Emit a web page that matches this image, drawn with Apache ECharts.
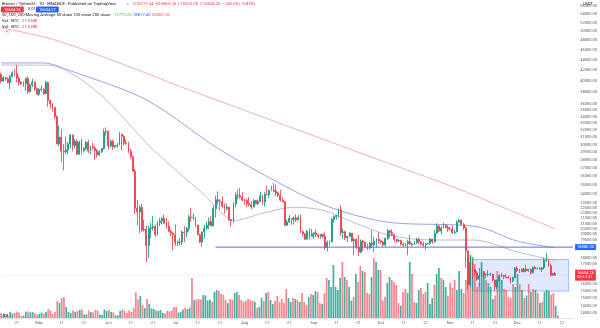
<!DOCTYPE html>
<html>
<head>
<meta charset="utf-8">
<script src="https://cdn.jsdelivr.net/npm/echarts@6/dist/echarts.min.js"></script>
<style>
  html, body { margin: 0; padding: 0; background: #ffffff; }
  #chart { width: 600px; height: 328px; }
</style>
</head>
<body>
<div id="chart"></div>
<script>
// BTC/USDT daily candles, 14 Apr 2022 – 18 Dec 2022 (Binance)
const firstDay = [2022, 3, 14];      // year, month (0-based), day
const dayCount = 257;                // candles plus empty right margin

const opens = [
  41147, 39942, 40552, 40378, 39678, 40801, 41493, 41358, 40480, 39709, 39441, 39450, 40426, 38112, 39235, 39742, 38596,
  37630, 38468, 38525, 37728, 39690, 36552, 36013, 35472, 34039, 30076, 31017, 29103, 29030, 29287, 30086, 31328, 29874, 30444, 28715, 30319, 29201, 29445, 30293, 29110, 29655, 29543, 29202, 28627, 29027, 29469, 31734,
  31801, 29805, 30452, 29700, 29865, 29920, 31374, 31125, 30205, 30110, 29092, 28425, 26575, 22488, 22136, 22584, 20401, 20469, 19018, 20553, 20600, 20711, 19988, 21110, 21237, 21492, 21038, 20742, 20281, 20124,
  19943, 19252, 19315, 19332, 20212, 20175, 20565, 21640, 21592, 21592, 20861, 19970, 19323, 20213, 20569, 20836, 21191, 20779, 22485, 23389, 23231, 23164, 22714, 22465, 22610, 21361, 21239, 22930, 23843, 23804, 23656,
  23336, 23314, 22978, 22846, 22630, 23289, 22961, 23175, 23810, 23149, 23954, 23934, 24403, 24441, 24305, 24094, 23854, 23342, 23191, 20834, 21140, 21516, 21400, 21529, 21368, 21560, 20241, 20037, 19555, 20285, 19811,
  20050, 20131, 19951, 19832, 19986, 19812, 18837, 19290, 19329, 21381, 21680, 21769, 22371, 20173, 20226, 19701, 19803, 20113, 19417, 19538, 18876, 18461, 19401, 19289, 18920, 18807, 19227, 19079, 19412, 19591,
  19423, 19310, 19056, 19629, 20337, 20158, 19955, 19531, 19417, 19439, 19131, 19060, 19155, 19375, 19176, 19068, 19268, 19550, 19334, 19139, 19053, 19172, 19208, 19567, 19345, 20095, 20771, 20295, 20591, 20809, 20627,
  20490, 20483, 20151, 20207, 21148, 21300, 20905, 20591, 18547, 15922, 17601, 17070, 16812, 16330, 16619, 16900, 16662, 16692, 16700, 16700, 16280, 15781, 16227, 16603, 16599, 16522, 16459, 16428, 16213, 16442,
  17163, 16978, 17092, 16885, 17105, 16967, 17088, 16837, 17224, 17128, 17128, 17085, 17209, 17775, 17804, 17356, 16632, 16777
];
const highs = [
  41500, 40870, 40709, 40595, 41116, 41760, 42199, 42976, 40795, 39980, 39940, 40616, 40797, 39474, 40372, 39925, 38795,
  38675, 39167, 38651, 40023, 39845, 36675, 36146, 35514, 34243, 32659, 32162, 30033, 31083, 30343, 31460, 31328, 30788, 30709, 30545, 30777, 29656, 30487, 30670, 29850, 30223, 29880, 29396, 29250, 29550, 32222, 32399,
  31982, 30689, 30675, 29955, 30189, 31765, 31555, 31330, 30700, 30385, 29440, 28544, 26895, 23362, 22800, 22978, 21365, 20792, 20815, 21078, 21723, 20900, 21233, 21558, 21614, 21868, 21540, 21200, 20432, 20179,
  20918, 19438, 19667, 20354, 20750, 20675, 21838, 22527, 21954, 21600, 20868, 20050, 20244, 20888, 21200, 21589, 21689, 22777, 23800, 24276, 23444, 23757, 22998, 23014, 22666, 21361, 23113, 24200, 24443, 24668, 24194,
  23509, 23466, 23647, 23230, 23464, 23354, 23400, 24245, 23932, 24226, 24918, 24458, 24888, 25211, 25047, 24247, 24446, 23600, 23208, 21382, 21800, 21548, 21684, 21900, 21819, 21867, 20364, 20143, 20400, 20575, 20490,
  20208, 20440, 20054, 20000, 20058, 20180, 19464, 19450, 21550, 21790, 21860, 22488, 22799, 20543, 20330, 19890, 20189, 20117, 19686, 19634, 19956, 19550, 19500, 19316, 19180, 19318, 20385, 19790, 19645, 20185,
  19486, 19395, 19719, 20475, 20365, 20456, 20055, 19627, 19558, 19525, 19268, 19238, 19513, 19951, 19227, 19425, 19676, 19706, 19360, 19346, 19250, 19248, 19700, 19601, 20415, 21020, 20877, 20750, 21085, 20931, 20845,
  20700, 20800, 20393, 21302, 21480, 21365, 21069, 20700, 18587, 18199, 17655, 17099, 16955, 17190, 17134, 16960, 16751, 17011, 16820, 16753, 16302, 16290, 16705, 16812, 16666, 16701, 16600, 16487, 16525, 17249,
  17320, 17105, 17159, 17202, 17425, 17107, 17142, 17299, 17360, 17227, 17270, 17241, 18000, 18387, 17854, 17531, 16796, 16863
];
const lows = [
  39551, 39767, 39991, 39546, 38536, 40571, 40820, 39751, 39177, 39285, 38929, 38200, 37702, 37881, 38881, 38175, 37578,
  37386, 38052, 37517, 37670, 35571, 35258, 34785, 33714, 30033, 29730, 27785, 26700, 28751, 28630, 29480, 29087, 29450, 28654, 28691, 28730, 28947, 29255, 28866, 28701, 29294, 28019, 28282, 28451, 28839, 29299, 31200,
  29301, 29594, 29282, 29485, 29531, 29890, 29219, 29843, 29944, 28850, 28100, 26560, 21925, 20846, 20111, 20232, 20246, 17622, 17960, 19637, 20348, 19770, 19890, 20740, 20907, 20964, 20510, 20188, 19848, 18626,
  18975, 18952, 19055, 19055, 19304, 19760, 20254, 21189, 21320, 20646, 19901, 19240, 18910, 19616, 20385, 20469, 20760, 20755, 21582, 22907, 22341, 22500, 21950, 22257, 21250, 20706, 21042, 22583, 23418, 23505, 23228,
  22850, 22665, 22681, 22400, 22588, 22910, 22841, 23151, 22865, 22665, 23853, 23580, 24300, 24178, 23773, 23671, 23180, 23080, 20783, 20761, 21067, 20890, 20890, 21150, 21310, 20107, 19800, 19521, 19550, 19540, 19797,
  19565, 19755, 19656, 19600, 19636, 18650, 18510, 19000, 19291, 21100, 21356, 21538, 19860, 19617, 19497, 19320, 19748, 19335, 18232, 18711, 18125, 18357, 18531, 18805, 18629, 18680, 18816, 18471, 18843, 19155,
  19160, 18920, 18959, 19492, 19730, 19853, 19320, 19255, 19316, 19020, 18860, 18965, 18190, 19070, 18975, 19063, 19160, 19101, 19000, 18900, 18650, 19132, 19070, 19157, 19242, 20050, 20200, 20000, 20552, 20555, 20237,
  20330, 20048, 20031, 20180, 21080, 20880, 20384, 17166, 15588, 15754, 16361, 16631, 16229, 15815, 16527, 16361, 16400, 16546, 16553, 16180, 15476, 15617, 16168, 16458, 16331, 16400, 16400, 16001, 16105, 16428,
  16855, 16787, 16858, 16878, 16868, 16906, 16678, 16733, 17058, 17092, 17071, 16873, 17079, 17660, 17275, 16527, 16584, 16623
];
const closes = [
  39942, 40552, 40378, 39678, 40801, 41493, 41358, 40480, 39709, 39441, 39450, 40426, 38112, 39235, 39742, 38596, 37630,
  38468, 38525, 37728, 39690, 36552, 36013, 35472, 34039, 30076, 31017, 29103, 29030, 29287, 30086, 31328, 29874, 30444, 28715, 30319, 29201, 29445, 30293, 29110, 29655, 29543, 29202, 28627, 29027, 29469, 31734, 31801,
  29805, 30452, 29700, 29865, 29920, 31374, 31125, 30205, 30110, 29092, 28425, 26575, 22488, 22136, 22584, 20401, 20469, 19018, 20553, 20600, 20711, 19988, 21110, 21237, 21492, 21038, 20742, 20281, 20124, 19943,
  19252, 19315, 19332, 20212, 20175, 20565, 21640, 21592, 21592, 20861, 19970, 19323, 20213, 20569, 20836, 21191, 20779, 22485, 23389, 23231, 23164, 22714, 22465, 22610, 21361, 21239, 22930, 23843, 23804, 23656, 23336,
  23314, 22978, 22846, 22630, 23289, 22961, 23175, 23810, 23149, 23954, 23934, 24403, 24441, 24305, 24094, 23854, 23342, 23191, 20834, 21140, 21516, 21400, 21529, 21368, 21560, 20241, 20037, 19555, 20285, 19811, 20050,
  20131, 19951, 19832, 19986, 19812, 18837, 19290, 19329, 21381, 21680, 21769, 22371, 20173, 20226, 19701, 19803, 20113, 19417, 19538, 18876, 18461, 19401, 19289, 18920, 18807, 19227, 19079, 19412, 19591, 19423,
  19310, 19056, 19629, 20337, 20158, 19955, 19531, 19417, 19439, 19131, 19060, 19155, 19375, 19176, 19068, 19268, 19550, 19334, 19139, 19053, 19172, 19208, 19567, 19345, 20095, 20771, 20295, 20591, 20809, 20627, 20490,
  20483, 20151, 20207, 21148, 21300, 20905, 20591, 18547, 15922, 17601, 17070, 16812, 16330, 16619, 16900, 16662, 16692, 16700, 16700, 16280, 15781, 16227, 16603, 16599, 16522, 16459, 16428, 16213, 16442, 17163,
  16978, 17092, 16885, 17105, 16967, 17088, 16837, 17224, 17128, 17128, 17085, 17209, 17775, 17804, 17356, 16632, 16777, 16634.26
];
// daily volume, thousand BTC
const volumes = [
  50, 30, 20, 25, 60, 45, 50, 65, 55, 20, 25, 65, 65, 55, 60, 50, 30,
  40, 55, 45, 60, 90, 75, 40, 60, 170, 150, 200, 210, 110, 60, 50, 75, 60, 70, 80, 85, 35, 35, 75, 60, 55, 80, 75, 35, 30, 85, 70,
  80, 60, 55, 25, 25, 70, 85, 70, 50, 75, 60, 100, 255, 185, 220, 130, 100, 190, 140, 95, 90, 75, 70, 80, 50, 45, 70, 65, 75, 110,
  110, 55, 60, 85, 100, 90, 105, 400, 180, 185, 190, 185, 230, 225, 175, 185, 160, 260, 280, 270, 240, 230, 180, 150, 190, 180, 250, 260, 230, 180, 160,
  170, 190, 180, 170, 160, 100, 110, 200, 170, 250, 260, 180, 140, 170, 220, 160, 190, 150, 290, 200, 160, 200, 190, 180, 160, 250, 160, 130, 210, 240, 230,
  270, 260, 150, 140, 250, 400, 380, 310, 530, 310, 280, 400, 560, 410, 380, 310, 175, 210, 440, 360, 520, 470, 460, 250, 240, 410, 600, 560, 480, 480,
  175, 210, 350, 410, 380, 360, 330, 150, 125, 260, 290, 250, 560, 440, 160, 150, 280, 300, 240, 260, 350, 140, 200, 330, 440, 500, 400, 380, 310, 225, 350,
  300, 380, 280, 470, 290, 250, 380, 600, 630, 610, 540, 310, 350, 560, 440, 380, 350, 310, 190, 225, 470, 400, 380, 290, 280, 210, 200, 340, 310, 440,
  340, 280, 200, 225, 340, 260, 290, 280, 250, 150, 160, 260, 280, 270, 230, 250, 120, 27.5
];

// moving averages of the close, sampled along the curve
const ma50Dates  = ['2022-04-14','2022-05-06','2022-05-18','2022-05-31','2022-06-18','2022-06-21','2022-07-13','2022-07-28','2022-08-09','2022-08-23','2022-09-05','2022-09-20','2022-10-05','2022-10-23','2022-11-12','2022-12-01','2022-12-18'];
const ma50Values = [42950, 42900, 40700, 36700, 30200, 29300, 24100, 21300, 22000, 22600, 22300, 21000, 19900, 19500, 19490, 18470, 17773.25];
const ma100Dates  = ['2022-04-14','2022-05-03','2022-05-14','2022-06-18','2022-07-21','2022-08-25','2022-09-12','2022-10-05','2022-11-13','2022-12-01','2022-12-18'];
const ma100Values = [43350, 43350, 42000, 36700, 29300, 24100, 22300, 21100, 20700, 19400, 18817.40];
const ma200Dates  = ['2022-04-14','2022-05-08','2022-06-18','2022-07-01','2022-08-01','2022-09-01','2022-10-01','2022-11-01','2022-12-01','2022-12-18'];
const ma200Values = [50800, 48100, 41400, 39300, 35000, 31200, 27900, 24900, 22000, 20502.16];

// price scale ticks (levels covered by the price tags are left out)
const priceTicks = [56000, 54000, 52000, 50000, 48000, 46000, 44000, 42000, 40000, 38000, 36000,
  35000, 34000, 33000, 32000, 31000, 30000, 29000, 28000, 27000, 26000, 25000, 24000, 23000,
  22500, 22000, 21500, 21000, 20500, 20000, 19500, 18000, 17500, 16000, 15500, 15000, 14500, 14000];

// drawings
const supportLevel = 18880;
const supportFrom = '2022-07-19';
const rangeBox = { from: '2022-11-11', to: '2022-12-24', low: 15480, high: 17850 };
const lastPrice = 16634.26;

const UP = '#089981', DOWN = '#f23645', BLUE = '#2962ff';
const UP_VOL = 'rgba(8,153,129,0.75)', DOWN_VOL = 'rgba(242,54,69,0.6)';
const MA50_C = '#b0b8c8', MA100_C = '#8c9be6', MA200_C = '#f3a5b6';
const MONTHS = ['Jan','Feb','Mar','Apr','May','Jun','Jul','Aug','Sep','Oct','Nov','Dec'];

const dates = [];
for (let i = 0; i < dayCount; i++) {
  const d = new Date(Date.UTC(firstDay[0], firstDay[1], firstDay[2] + i));
  dates.push(d.toISOString().slice(0, 10));
}
const lastDate = dates[dayCount - 1];
const candles = closes.map((c, i) => [opens[i], c, lows[i], highs[i]]);
const volBars = volumes.map((v, i) => ({
  value: v,
  itemStyle: { color: closes[i] >= opens[i] ? UP_VOL : DOWN_VOL }
}));
const pairs = (ds, vs) => ds.map((d, i) => [d, vs[i]]);

const FONT = 'Roboto, "Liberation Sans", sans-serif';
const TXT = '#131722';

// header legend lines, one title block per coloured run
function head(left, top, text, color, extra, box) {
  return Object.assign({
    left: left, top: top, padding: 0, text: text,
    textStyle: Object.assign({ color: color, fontSize: 4.2, fontWeight: 'normal', fontFamily: FONT, lineHeight: 5 }, extra || {})
  }, box || {});
}
const titles = [
  { text: '', show: false },
  head(2, 1, 'Bitcoin / TetherUS · 1D · BINANCE · Published on TradingView', TXT),
  head(127, 1.3, '●', UP, { fontSize: 3 }),
  head(133, 1, 'O16777.54  H16863.26  L16623.00  C16634.26  −143.28 (−0.85%)', DOWN),
  head(1, 6.5, '16634.26', '#fff', { fontSize: 4 }, { backgroundColor: DOWN, padding: [0.5, 3], borderRadius: 1 }),
  head(28, 6.8, '0.01', TXT, { fontSize: 4 }),
  head(36, 6.5, '16634.27', '#fff', { fontSize: 4 }, { backgroundColor: BLUE, padding: [0.5, 3], borderRadius: 1 }),
  head(2, 12.5, '50, 100, 200 Moving Average 50 close 100 close 200 close', TXT),
  head(114, 12.5, '17773.25', '#4caf50'),
  head(133, 12.5, '18817.40', BLUE),
  head(152, 12.5, '20502.16', DOWN),
  head(2, 18.3, 'Vol · BTC', TXT),
  head(22, 18.3, '27.538K', DOWN),
  head(2, 24, 'Vol · BTC', TXT),
  head(22, 24, '27.538K', DOWN),
  head(4, 30, '⌃', TXT, { fontSize: 4 }, { backgroundColor: '#fff', borderColor: '#c9ccd6', borderWidth: 0.5, padding: [0, 1], borderRadius: 1 }),
  head(583, 1, 'USDT', TXT, { fontSize: 4 }),
  head(3, 313, 'TV', TXT, { fontSize: 4, fontWeight: 'bold' })
];

const chart = echarts.init(document.getElementById('chart'), null, { renderer: 'canvas' });
chart.setOption({
  animation: false,
  backgroundColor: '#ffffff',
  textStyle: { fontFamily: FONT },
  title: titles,
  grid: [
    { left: 0, right: 23, top: 0, bottom: 10 },
    { left: 0, right: 23, top: 255, bottom: 10 }
  ],
  xAxis: [
    {
      type: 'category', gridIndex: 0, data: dates, boundaryGap: true,
      axisLine: { show: true, lineStyle: { color: '#e0e3eb', width: 1 } },
      axisTick: { show: false },
      splitLine: { show: false },
      axisLabel: {
        color: '#5d606b', fontSize: 4, margin: 3, hideOverlap: false,
        interval: (idx, val) => { const d = +val.slice(8, 10); return d === 1 || d === 11 || d === 21; },
        formatter: (val) => { const d = +val.slice(8, 10); return d === 1 ? MONTHS[+val.slice(5, 7) - 1] : String(d); }
      }
    },
    { type: 'category', gridIndex: 1, data: dates, boundaryGap: true, show: false }
  ],
  yAxis: [
    {
      type: 'log', logBase: 10, gridIndex: 0, position: 'right',
      min: 13710, max: 57600,
      axisLine: { show: false }, axisTick: { show: false }, splitLine: { show: false },
      axisLabel: {
        customValues: priceTicks,
        color: '#5d606b', fontSize: 4, margin: 6, align: 'left',
        formatter: (v) => Number(v).toFixed(2)
      }
    },
    { type: 'value', gridIndex: 1, min: 0, max: 630, show: false }
  ],
  series: [
    {
      name: 'Volume', type: 'bar', xAxisIndex: 1, yAxisIndex: 1,
      data: volBars, barWidth: '78%', z: 1, silent: true
    },
    {
      name: 'MA 200', type: 'line', data: pairs(ma200Dates, ma200Values),
      showSymbol: false, smooth: 0.3, connectNulls: true, z: 2, silent: true,
      lineStyle: { color: MA200_C, width: 0.9 }
    },
    {
      name: 'MA 100', type: 'line', data: pairs(ma100Dates, ma100Values),
      showSymbol: false, smooth: 0.3, connectNulls: true, z: 2, silent: true,
      lineStyle: { color: MA100_C, width: 0.9 }
    },
    {
      name: 'MA 50', type: 'line', data: pairs(ma50Dates, ma50Values),
      showSymbol: false, smooth: 0.3, connectNulls: true, z: 2, silent: true,
      lineStyle: { color: MA50_C, width: 0.9 }
    },
    {
      name: 'Support', type: 'line', z: 4, silent: true, showSymbol: false,
      data: [[supportFrom, supportLevel], [lastDate, supportLevel]],
      lineStyle: { color: '#5b6bec', width: 1 },
      itemStyle: { color: '#5b6bec' },
      endLabel: { show: true, distance: 2, formatter: supportLevel.toFixed(2),
                  color: '#fff', backgroundColor: BLUE, fontSize: 4, padding: [1, 2] }
    },
    {
      name: 'Last price', type: 'line', z: 4, silent: true, showSymbol: false,
      data: [[dates[0], lastPrice], [lastDate, lastPrice]],
      lineStyle: { color: DOWN, width: 0.6, type: 'dotted', opacity: 0.3 },
      itemStyle: { color: DOWN },
      endLabel: { show: true, distance: 2, formatter: lastPrice.toFixed(2) + '\n05:12:31',
                  color: '#fff', backgroundColor: DOWN, fontSize: 4, lineHeight: 4.5, padding: [1, 2] }
    },
    {
      name: 'BTCUSDT', type: 'candlestick', data: candles, barWidth: '62%', z: 3,
      itemStyle: { color: UP, color0: DOWN, borderColor: UP, borderColor0: DOWN, borderWidth: 0.8 },
      markArea: {
        silent: true,
        itemStyle: { color: 'rgba(41,98,255,0.14)', borderColor: 'rgba(41,98,255,0.55)', borderWidth: 0.7 },
        data: [[{ coord: [rangeBox.from, rangeBox.high] }, { coord: [rangeBox.to, rangeBox.low] }]]
      }
    }
  ]
});
</script>
</body>
</html>
